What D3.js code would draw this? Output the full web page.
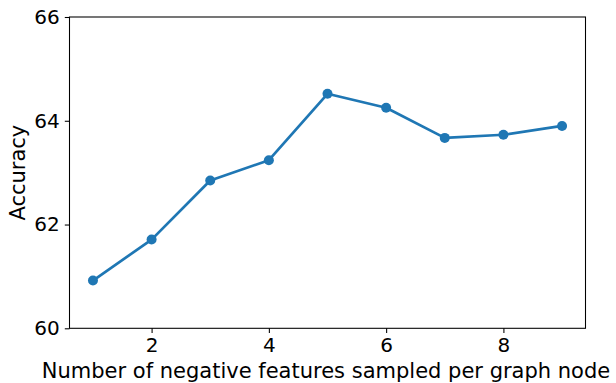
<!DOCTYPE html>
<html>
<head>
<meta charset="utf-8">
<script src="https://cdn.jsdelivr.net/npm/d3@7"></script>
<style>
  html, body { margin: 0; padding: 0; background: #fff; }
  svg { display: block; font-family: "DejaVu Sans", sans-serif; }
</style>
</head>
<body>
<svg id="chart" width="616" height="383"></svg>
<script>
// Accuracy vs. number of negative features sampled per graph node
const negSamples = [1, 2, 3, 4, 5, 6, 7, 8, 9];
const accuracy = [60.92, 61.71, 62.85, 63.24, 64.52, 64.25, 63.67, 63.73, 63.90];
const xTicks = [2, 4, 6, 8];
const yTicks = [60, 62, 64, 66];
const xLabel = "Number of negative features sampled per graph node";
const yLabel = "Accuracy";

const svg = d3.select("#chart");
const plotLeft = 69.5, plotRight = 585.5, plotTop = 17, plotBottom = 328.3;

const x = d3.scaleLinear().domain([0.6, 9.4]).range([plotLeft, plotRight]);
const y = d3.scaleLinear().domain([60, 66]).range([plotBottom, plotTop]);

const tickFont = 20;
const labelFont = 21;

// axes
const xAxis = svg.append("g")
  .attr("transform", `translate(0,${plotBottom})`)
  .call(d3.axisBottom(x).tickValues(xTicks).tickFormat(d3.format("d")).tickSizeOuter(0).tickSize(4.7).tickPadding(5));
const yAxis = svg.append("g")
  .attr("transform", `translate(${plotLeft},0)`)
  .call(d3.axisLeft(y).tickValues(yTicks).tickFormat(d3.format("d")).tickSizeOuter(0).tickSize(4.7).tickPadding(5));

[xAxis, yAxis].forEach(g => {
  g.attr("font-size", null).attr("font-family", null);
  g.select(".domain").remove();
  g.selectAll(".tick line").attr("stroke", "#000").attr("stroke-width", 1.07);
  g.selectAll(".tick text")
    .attr("fill", "#000")
    .attr("font-family", "DejaVu Sans, sans-serif")
    .attr("font-size", tickFont);
});

// frame
svg.append("rect")
  .attr("x", plotLeft).attr("y", plotTop)
  .attr("width", plotRight - plotLeft).attr("height", plotBottom - plotTop)
  .attr("fill", "none").attr("stroke", "#000").attr("stroke-width", 1.07);

// series line and markers
const pts = negSamples.map((n, i) => [n, accuracy[i]]);
svg.append("path")
  .datum(pts)
  .attr("fill", "none")
  .attr("stroke", "#1f77b4")
  .attr("stroke-width", 2.7)
  .attr("stroke-linejoin", "round")
  .attr("d", d3.line().x(d => x(d[0])).y(d => y(d[1])));

svg.append("g").selectAll("circle")
  .data(pts)
  .join("circle")
  .attr("cx", d => x(d[0]))
  .attr("cy", d => y(d[1]))
  .attr("r", 5)
  .attr("fill", "#1f77b4");

// axis titles
svg.append("text")
  .attr("x", 326)
  .attr("y", 378)
  .attr("text-anchor", "middle")
  .attr("font-size", labelFont)
  .attr("fill", "#000")
  .text(xLabel);

svg.append("text")
  .attr("transform", `translate(25,${(plotTop + plotBottom) / 2}) rotate(-90)`)
  .attr("text-anchor", "middle")
  .attr("font-size", labelFont)
  .attr("fill", "#000")
  .text(yLabel);
</script>
</body>
</html>
